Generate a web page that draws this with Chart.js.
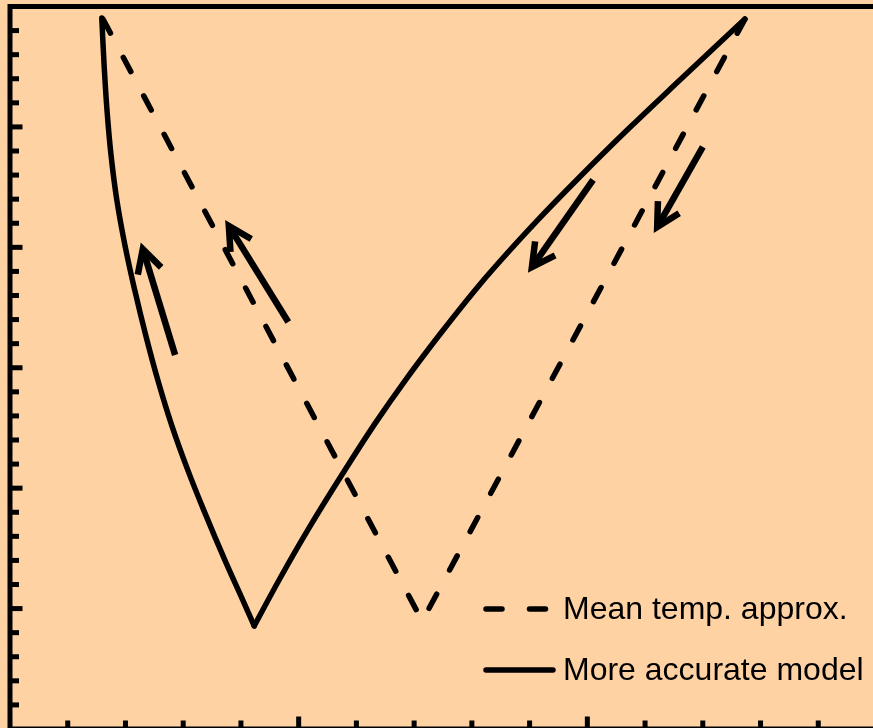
<!DOCTYPE html>
<html lang="en">
<head>
<meta charset="UTF-8">
<title>Mean temperature approximation vs. more accurate model</title>
<script src="https://cdn.jsdelivr.net/npm/chart.js@4.4.1/dist/chart.umd.min.js"></script>
<style>
  html, body { margin: 0; padding: 0; overflow: hidden; background: #ffd2a4; }
  #wrap { width: 880px; height: 735px; }
</style>
</head>
<body>
<div id="wrap"><canvas id="chart" width="880" height="735"></canvas></div>
<script>
// Axis units: x runs 0..15, y runs 0..30 (no tick labels, just marks)
const xMin = 0, xMax = 15, xStep = 1;
const yMin = 0, yMax = 30, yStep = 1;
const majorEvery = 5;

// More accurate model - falling branch then rising branch
const modelDownX = [1.59, 1.63, 1.68, 1.75, 1.85, 1.99, 2.16, 2.35, 2.56, 2.80, 3.08, 3.39, 3.72, 4.03, 4.23];
const modelDownY = [29.52, 27.57, 25.70, 23.83, 21.97, 20.10, 18.23, 16.36, 14.49, 12.62, 10.75, 8.89, 7.02, 5.36, 4.28];
const modelUpX = [4.23, 4.68, 5.18, 5.78, 6.33, 6.85, 7.45, 8.03, 8.46, 9.16, 9.85, 10.69, 11.64, 12.73];
const modelUpY = [4.28, 6.27, 8.35, 10.67, 12.71, 14.49, 16.40, 18.15, 19.35, 21.18, 22.88, 24.87, 27.03, 29.48];

// Mean temperature approximation - straight V
const meanX = [1.61, 7.14, 12.73];
const meanY = [29.48, 4.48, 29.48];

// Direction arrows (tail -> tip)
const arrowTailX = [2.86, 4.82, 10.10, 12.00];
const arrowTailY = [15.53, 16.90, 22.80, 24.17];
const arrowTipX = [2.30, 3.79, 9.04, 11.21];
const arrowTipY = [19.93, 20.89, 19.18, 20.84];

const PEACH = '#ffd2a4';
const INK = '#000000';

const zip = (xs, ys) => xs.map((x, i) => ({ x: x, y: ys[i] }));

// Page background + frame with inward tick marks on left and bottom
const frame = {
  id: 'frame',
  beforeDraw(chart) {
    const ctx = chart.ctx;
    ctx.save();
    ctx.fillStyle = PEACH;
    ctx.fillRect(0, 0, chart.width, chart.height);
    ctx.restore();
  },
  afterDraw(chart) {
    const { ctx, chartArea: a, scales } = chart;
    ctx.save();
    ctx.strokeStyle = INK;
    ctx.lineWidth = 5;
    ctx.lineCap = 'butt';
    ctx.lineJoin = 'miter';
    ctx.strokeRect(a.left, a.top, a.right - a.left, a.bottom - a.top);

    scales.y.ticks.forEach((t) => {
      if (t.value <= yMin || t.value >= yMax) return;
      const py = scales.y.getPixelForValue(t.value);
      const len = t.value % majorEvery === 0 ? 12.5 : 9;
      ctx.beginPath();
      ctx.moveTo(a.left, py);
      ctx.lineTo(a.left + len, py);
      ctx.stroke();
    });
    scales.x.ticks.forEach((t) => {
      if (t.value <= xMin || t.value >= xMax) return;
      const px = scales.x.getPixelForValue(t.value);
      const len = t.value % majorEvery === 0 ? 12.5 : 8.5;
      ctx.beginPath();
      ctx.moveTo(px, a.bottom);
      ctx.lineTo(px, a.bottom - len);
      ctx.stroke();
    });
    ctx.restore();
  }
};

// Open arrow heads at the last point of every arrow dataset
const arrowHeads = {
  id: 'arrowHeads',
  afterDatasetsDraw(chart) {
    const ctx = chart.ctx;
    chart.data.datasets.forEach((ds, i) => {
      if (!ds.arrow) return;
      const pts = chart.getDatasetMeta(i).data;
      const tail = pts[0], tip = pts[pts.length - 1];
      const ang = Math.atan2(tail.y - tip.y, tail.x - tip.x);
      const len = 26, spread = 28 * Math.PI / 180;
      ctx.save();
      ctx.strokeStyle = ds.borderColor;
      ctx.lineWidth = ds.borderWidth;
      ctx.lineJoin = 'miter';
      ctx.lineCap = 'butt';
      ctx.beginPath();
      ctx.moveTo(tip.x + len * Math.cos(ang + spread), tip.y + len * Math.sin(ang + spread));
      ctx.lineTo(tip.x, tip.y);
      ctx.lineTo(tip.x + len * Math.cos(ang - spread), tip.y + len * Math.sin(ang - spread));
      ctx.stroke();
      ctx.restore();
    });
  }
};

// Key in the lower right corner, one row per labelled dataset
const lineKey = {
  id: 'lineKey',
  afterDraw(chart, args, opts) {
    const ctx = chart.ctx;
    let y = opts.top;
    ctx.save();
    chart.data.datasets.filter((ds) => ds.label).forEach((ds) => {
      ctx.strokeStyle = ds.borderColor;
      ctx.lineWidth = ds.borderWidth;
      ctx.lineCap = 'round';
      ctx.setLineDash(ds.borderDash || []);
      ctx.beginPath();
      ctx.moveTo(opts.x0, y);
      ctx.lineTo(opts.x1, y);
      ctx.stroke();
      ctx.setLineDash([]);
      ctx.fillStyle = INK;
      ctx.font = opts.font;
      ctx.textBaseline = 'middle';
      ctx.textAlign = 'left';
      ctx.fillText(ds.label, opts.textX, y + 1);
      y += opts.rowGap;
    });
    ctx.restore();
  }
};

const lineStyle = {
  pointRadius: 0,
  borderColor: INK,
  borderWidth: 5.5,
  borderCapStyle: 'round',
  borderJoinStyle: 'round',
  fill: false
};

const datasets = [
  Object.assign({}, lineStyle, {
    label: 'Mean temp. approx.',
    data: zip(meanX, meanY),
    borderDash: [16, 27.5],
    borderJoinStyle: 'miter',
    tension: 0
  }),
  Object.assign({}, lineStyle, {
    label: 'More accurate model',
    data: zip(modelDownX, modelDownY),
    tension: 0.4
  }),
  Object.assign({}, lineStyle, {
    data: zip(modelUpX, modelUpY),
    tension: 0.4
  })
];

arrowTipX.forEach((tx, i) => {
  datasets.push(Object.assign({}, lineStyle, {
    arrow: true,
    borderWidth: 6.5,
    borderCapStyle: 'butt',
    tension: 0,
    data: [{ x: arrowTailX[i], y: arrowTailY[i] }, { x: tx, y: arrowTipY[i] }]
  }));
});

new Chart(document.getElementById('chart'), {
  type: 'line',
  data: { datasets: datasets },
  plugins: [frame, arrowHeads, lineKey],
  options: {
    responsive: false,
    animation: false,
    events: [],
    layout: { padding: { left: 10, top: 6.5, right: 4, bottom: 6 } },
    scales: {
      x: { type: 'linear', min: xMin, max: xMax, display: false, ticks: { stepSize: xStep } },
      y: { type: 'linear', min: yMin, max: yMax, display: false, ticks: { stepSize: yStep } }
    },
    plugins: {
      legend: { display: false },
      tooltip: { enabled: false },
      lineKey: {
        x0: 486, x1: 553, textX: 563, top: 609, rowGap: 61,
        font: '32px "Liberation Sans", Arial, sans-serif'
      }
    }
  }
});
</script>
</body>
</html>
